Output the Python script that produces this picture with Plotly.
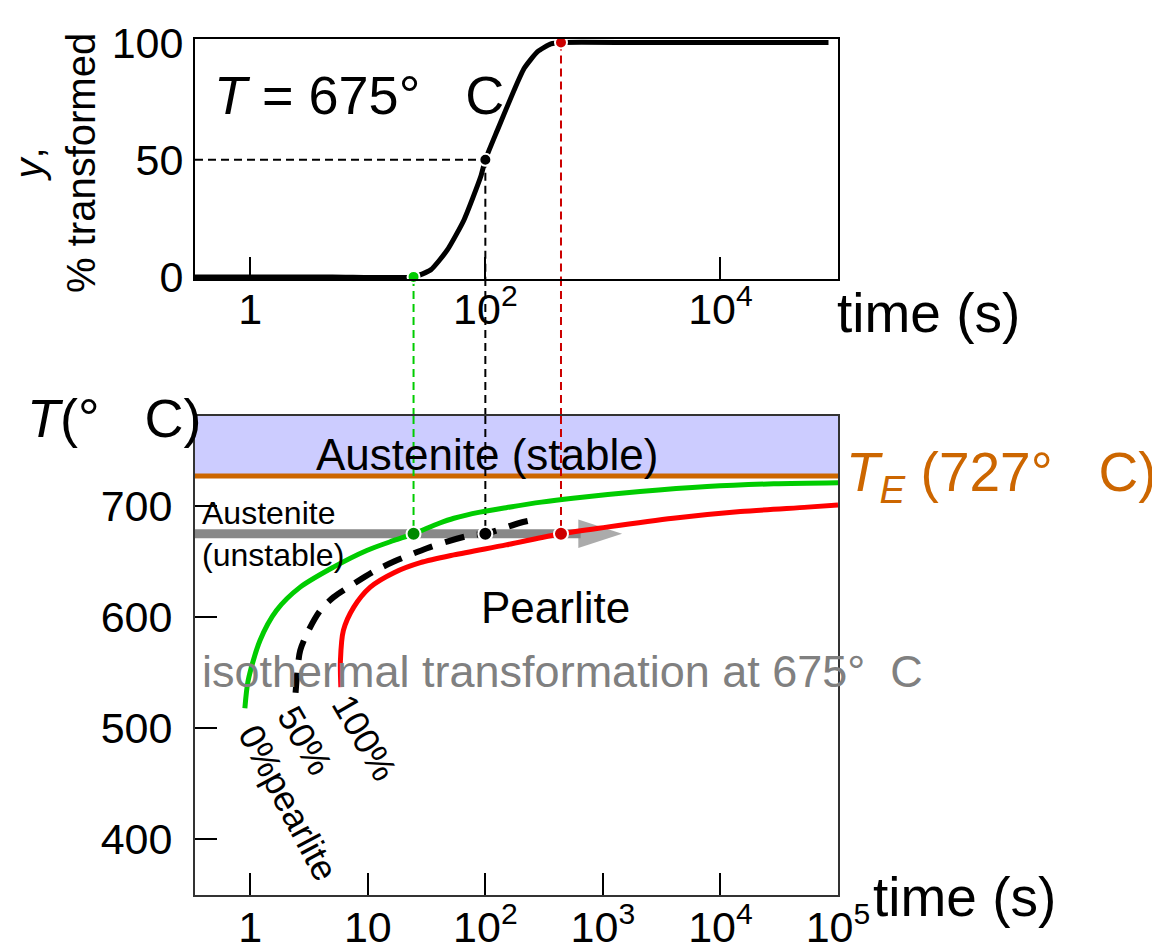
import numpy as np
import plotly.graph_objects as go

# ---------------- data ----------------
T_ISO = 675          # isothermal temperature (deg C)
T_EUTECTOID = 727    # eutectoid temperature (deg C)
T_START = 24.5       # time at 0 % transformed (s)
T_HALF = 100         # time at 50 % transformed (s)
T_FINISH = 440       # time at 100 % transformed (s)

# top panel: % transformed vs time at 675 C
top_time = [0.3, 5, 24.5, 34.3, 47.5, 65.8, 91.4, 100, 126.8, 175.7, 214, 278, 361, 440, 2000, 83000]
top_pct = [0, 0, 0, 3, 11.5, 24.3, 42.8, 50, 62.7, 79.7, 89, 96.1, 99.4, 100, 100, 100]

# bottom panel: TTT curves (time s, temperature C)
start_time = [0.90, 0.96, 1.21, 1.67, 2.66, 5.1, 9.8, 16.7, 24.5, 40.5, 54, 90, 150, 300, 555, 2070, 7700, 28400, 100000]
start_temp = [518, 543, 579, 606, 627, 645, 660, 669, 675, 684.5, 689, 694.5, 698.5, 703.5, 707, 713, 717.5, 720, 721]

half_time = [2.43, 2.51, 2.66, 3.13, 3.94, 5.12, 7.59, 11.2, 16.7, 31.9, 47.3, 77.5, 100, 195, 252]
half_temp = [532, 550, 570, 588, 606, 618, 630, 641, 650, 662, 668, 674, 675, 684.7, 687.4]

finish_time = [5.9, 5.85, 6.2, 7.6, 10.5, 16.7, 28, 54, 150, 440, 1076, 3963, 14800, 55100, 100000]
finish_temp = [537, 561, 588, 609, 627, 640, 649, 656, 665, 675, 681, 689, 695, 699, 701]

arrow_time = [0.3, 1456]
arrow_temp = [T_ISO, T_ISO]

bottom_tickvals = [1, 10, 100, 1000, 10000, 100000]
bottom_ticktext = ["1", "10", "10<sup>2</sup>", "10<sup>3</sup>", "10<sup>4</sup>", "10<sup>5</sup>"]
top_tickvals = [1, 100, 10000]
top_ticktext = ["1", "10<sup>2</sup>", "10<sup>4</sup>"]
temp_tickvals = [400, 500, 600, 700]
pct_tickvals = [0, 50, 100]

# ---------------- layout constants ----------------
X_RANGE = [-0.47, 5.0]
TOP_Y_RANGE = [-0.9, 101.5]
BOT_Y_RANGE = [350, 781]
TOP_DOMAIN = [0.7196, 1.0]
BOT_DOMAIN = [0.0, 0.5596]
FONT = "Liberation Sans, Arial, sans-serif"
GREEN = "#00cc00"
DKGREEN = "#008a00"
RED = "#ff0000"
DKRED = "#cc0000"
ORANGE = "#cc6600"
NB = "\u00a0"
GAP2 = NB + " "
GAP3 = NB + NB + " "

fig = go.Figure()

# gray arrow (isothermal path)
fig.add_trace(go.Scatter(
    x=arrow_time, y=arrow_temp, xaxis="x2", yaxis="y2", mode="lines+markers",
    line=dict(color="#888888", width=9),
    marker=dict(symbol=["circle", "arrow"], size=[0, 46], angleref="previous",
                color="#888888", line=dict(width=0)),
    hoverinfo="skip", showlegend=False))

# TTT curves
fig.add_trace(go.Scatter(x=start_time, y=start_temp, xaxis="x2", yaxis="y2", mode="lines",
                         line=dict(color=GREEN, width=5, shape="spline", smoothing=0.8),
                         showlegend=False))
fig.add_trace(go.Scatter(x=half_time, y=half_temp, xaxis="x2", yaxis="y2", mode="lines",
                         line=dict(color="black", width=6, dash="20px,13px", shape="spline", smoothing=0.8),
                         showlegend=False))
fig.add_trace(go.Scatter(x=finish_time, y=finish_temp, xaxis="x2", yaxis="y2", mode="lines",
                         line=dict(color=RED, width=5, shape="spline", smoothing=0.8),
                         showlegend=False))

# top panel curve
fig.add_trace(go.Scatter(x=top_time, y=top_pct, xaxis="x", yaxis="y", mode="lines",
                         line=dict(color="black", width=5, shape="spline", smoothing=0.5),
                         showlegend=False))

# dots
key_times = [T_START, T_HALF, T_FINISH]
fig.add_trace(go.Scatter(x=key_times, y=[0, 50, 100], xaxis="x", yaxis="y", mode="markers",
                         marker=dict(size=12, color=[GREEN, "black", DKRED], line=dict(color="white", width=2)),
                         cliponaxis=False, showlegend=False))
fig.add_trace(go.Scatter(x=key_times, y=[T_ISO] * 3, xaxis="x2", yaxis="y2", mode="markers",
                         marker=dict(size=14, color=[DKGREEN, "black", DKRED], line=dict(color="white", width=2)),
                         cliponaxis=False, showlegend=False))

# ---------------- shapes ----------------
shapes = []
# austenite stable band and eutectoid line
shapes.append(dict(type="rect", xref="x2 domain", yref="y2", x0=0, x1=1, y0=T_EUTECTOID, y1=BOT_Y_RANGE[1],
                   fillcolor="#ccccff", line=dict(width=0), layer="below"))
shapes.append(dict(type="line", xref="x2 domain", yref="y2", x0=0, x1=1, y0=T_EUTECTOID, y1=T_EUTECTOID,
                   line=dict(color=ORANGE, width=5), layer="below"))

# connecting dashed verticals (shape x values are data values on log axes)
for t, yv, col in zip(key_times, [0, 50, 100], [GREEN, "black", DKRED]):
    dash = dict(color=col, width=2, dash="8px,5px")
    shapes.append(dict(type="line", xref="x", yref="y", x0=t, x1=t, y0=yv, y1=TOP_Y_RANGE[0],
                       line=dash, layer="below"))
    shapes.append(dict(type="line", xref="x", yref="paper", x0=t, x1=t, y0=BOT_DOMAIN[1], y1=TOP_DOMAIN[0],
                       line=dash, layer="below"))
    shapes.append(dict(type="line", xref="x2", yref="y2", x0=t, x1=t, y0=BOT_Y_RANGE[1], y1=T_ISO,
                       line=dash, layer="below"))
# horizontal dashed at 50 %
shapes.append(dict(type="line", xref="x", yref="y", x0=10 ** X_RANGE[0], x1=T_HALF, y0=50, y1=50,
                   line=dict(color="black", width=2, dash="8px,5px"), layer="below"))

# ---------------- annotations ----------------
ann = []
def A(**kw):
    base = dict(showarrow=False, font=dict(family=FONT, size=43, color="black"))
    f = kw.pop("font", {})
    base["font"].update(f)
    base.update(kw)
    ann.append(base)

A(text=f"<i>T</i> = 675°{GAP3}C", xref="x domain", yref="y domain", x=0.026, y=0.767,
  xanchor="left", yanchor="middle", font=dict(size=54))
A(text="<i>y</i>,<br>% transformed", xref="paper", yref="paper", x=-0.218, y=0.855,
  xanchor="center", yanchor="middle", textangle=-90, font=dict(size=40))
A(text="time (s)", xref="paper", yref="paper", x=0.995, y=0.680, xanchor="left", yanchor="middle",
  font=dict(size=55))
A(text="time (s)", xref="paper", yref="paper", x=1.052, y=-0.002, xanchor="left", yanchor="middle",
  font=dict(size=55))
A(text=f"<i>T</i>(°{GAP3}C)", xref="paper", yref="paper", x=0.014, y=0.557, xanchor="right",
  yanchor="middle", font=dict(size=54))
A(text=f"<i>T</i><sub><i>E</i></sub> (727°{GAP3}C)", xref="paper", yref="paper", x=1.010, y=0.490,
  xanchor="left", yanchor="middle", font=dict(size=55, color=ORANGE))
A(text="Austenite (stable)", xref="x2 domain", yref="y2", x=0.454, y=746, xanchor="center",
  yanchor="middle", font=dict(size=44))
A(text="Austenite<br>(unstable)", xref="x2 domain", yref="y2", x=0.008, y=T_ISO, xanchor="left",
  yanchor="middle", align="left", font=dict(size=32))
A(text="Pearlite", xref="x2 domain", yref="y2", x=0.56, y=609, xanchor="center", yanchor="middle",
  font=dict(size=44))
A(text=f"isothermal transformation at 675°{GAP2}C", xref="x2 domain", yref="y2", x=0.008, y=551,
  xanchor="left", yanchor="middle", font=dict(size=45, color="#808080"))
A(text="0%pearlite", xref="x2 domain", yref="y2", x=0.1446, y=433, xanchor="center", yanchor="middle",
  textangle=62, font=dict(size=36))
A(text="50%", xref="x2 domain", yref="y2", x=0.171, y=489, xanchor="center", yanchor="middle",
  textangle=60, font=dict(size=36))
A(text="100%", xref="x2 domain", yref="y2", x=0.264, y=492, xanchor="center", yanchor="middle",
  textangle=60, font=dict(size=36))

axis_common = dict(showgrid=False, zeroline=False, showline=True, mirror=True, linewidth=2,
                   automargin=False, tickfont=dict(family=FONT, size=43, color="black"))

fig.update_layout(
    width=1152, height=942,
    margin=dict(l=187, r=322, t=31, b=55, autoexpand=False),
    paper_bgcolor="white", plot_bgcolor="white",
    font=dict(family=FONT, color="black"),
    showlegend=False,
    xaxis=dict(type="log", range=X_RANGE, domain=[0, 1], anchor="y", tickmode="array",
               tickvals=top_tickvals, ticktext=top_ticktext, ticks="inside", ticklen=22, tickwidth=2,
               tickcolor="black", linecolor="black", ticklabelstandoff=-9, **axis_common),
    yaxis=dict(range=TOP_Y_RANGE, domain=TOP_DOMAIN, anchor="x", tickmode="array", tickvals=pct_tickvals,
               ticks="", linecolor="black", ticklabelstandoff=1, **axis_common),
    xaxis2=dict(type="log", range=X_RANGE, domain=[0, 1], anchor="y2", tickmode="array",
                tickvals=bottom_tickvals, ticktext=bottom_ticktext, ticks="inside", ticklen=22, tickwidth=2,
                tickcolor="black", linecolor="#333333", ticklabelstandoff=-7, **axis_common),
    yaxis2=dict(range=BOT_Y_RANGE, domain=BOT_DOMAIN, anchor="x2", tickmode="array", tickvals=temp_tickvals,
                ticks="inside", ticklen=22, tickwidth=2, tickcolor="black", linecolor="#333333",
                ticklabelstandoff=12, **axis_common),
    shapes=shapes,
    annotations=ann,
)

fig.write_html("out.html")
